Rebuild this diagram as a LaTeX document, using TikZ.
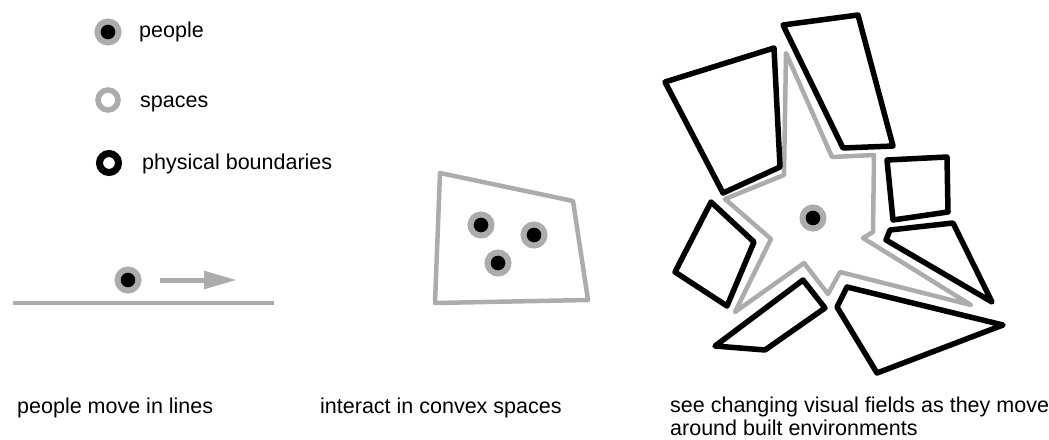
\documentclass[tikz,border=0pt]{standalone}
\usepackage{fontspec}
\setmainfont{Liberation Sans}
\usetikzlibrary{arrows.meta}
\definecolor{pgray}{RGB}{172,172,172}
\tikzset{
  person/.style={circle, fill=black, draw=pgray, line width=6pt, minimum size=21pt, inner sep=0pt},
  spacering/.style={circle, fill=white, draw=pgray, line width=5.5pt, minimum size=20pt, inner sep=0pt},
  wallring/.style={circle, fill=white, draw=black, line width=7pt, minimum size=19pt, inner sep=0pt},
  lbl/.style={anchor=base west, inner sep=0pt, font=\fontsize{21.5}{19}\selectfont},
  wall/.style={draw=black, line width=5.5pt, line join=round},
  space/.style={draw=pgray, line width=4.5pt, line join=round},
}
\begin{document}
\begin{tikzpicture}[x=1pt, y=-1pt]
\useasboundingbox (0,0) rectangle (1049,439);
% legend
\node[person] (lp) at (108,32) {};
\node[lbl] (lpt) at (139,37) {people};
\node[spacering] (ls) at (108,100) {};
\node[lbl] (lst) at (140,107) {spaces};
\node[wallring] (lw) at (109,163) {};
\node[lbl] (lwt) at (142,169) {physical boundaries};
% panel 1: lines
\coordinate (l1) at (13,303);
\coordinate (l2) at (274,303);
\draw[pgray, line width=4.5pt] (l1) -- (l2);
\node[person] (p1) at (128,280) {};
\coordinate (a1) at (160,280);
\coordinate (a2) at (237,280);
\draw[pgray, line width=5pt, -{Triangle[length=33pt,width=17pt]}] (a1) -- (a2);
% panel 2: convex space
\draw[space] (440,173) -- (573,201) -- (588,300) -- (435,303) -- cycle;
\node[person] (p2) at (481,225) {};
\node[person] (p3) at (534,235) {};
\node[person] (p4) at (498,263) {};
% panel 3: visual fields
\draw[space] (786,53) -- (832,157) -- (874,155) -- (873,232) -- (863,238) -- (971,305)
  -- (840,272) -- (828,294) -- (804,263) -- (735,312) -- (771,239) -- (725,199) -- (784,175) -- cycle;
\draw[wall] (665,82) -- (774,48) -- (780,167) -- (723,193) -- cycle;
\draw[wall] (783,25) -- (858,15) -- (893,146) -- (843,148) -- cycle;
\draw[wall] (887,160) -- (947,157) -- (948,212) -- (893,220) -- cycle;
\draw[wall] (890,230) -- (953,223) -- (992,302) -- (886,240) -- cycle;
\draw[wall] (847,287) -- (1003,325) -- (877,373) -- (837,307) -- cycle;
\draw[wall] (803,280) -- (825,308) -- (765,350) -- (715,346) -- cycle;
\draw[wall] (711,202) -- (754,242) -- (727,306) -- (675,272) -- cycle;
\node[person] (p5) at (813,218) {};
% captions
\node[lbl] (c1) at (17,413) {people move in lines};
\node[lbl] (c2) at (320,413) {interact in convex spaces};
\node[lbl] (c3) at (670,412) {see changing visual fields as they move};
\node[lbl] (c4) at (670,435) {around built environments};
\end{tikzpicture}
\end{document}
